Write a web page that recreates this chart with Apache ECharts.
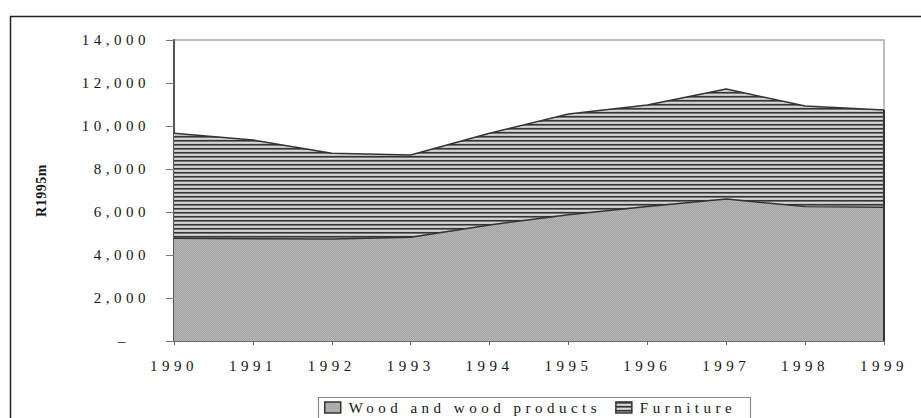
<!DOCTYPE html>
<html>
<head>
<meta charset="utf-8">
<script src="https://cdn.jsdelivr.net/npm/echarts@6/dist/echarts.min.js"></script>
<style>
  html, body { margin: 0; padding: 0; background: #fff; }
  #chart { width: 921px; height: 418px; }
  #chart text { letter-spacing: 4.5px; }
</style>
</head>
<body>
<div id="chart"></div>
<script>
const years = ['1990', '1991', '1992', '1993', '1994', '1995', '1996', '1997', '1998', '1999']
const wood = [4780, 4760, 4740, 4830, 5400, 5870, 6260, 6600, 6250, 6220]
const furniture = [4880, 4590, 3990, 3820, 4260, 4690, 4720, 5120, 4680, 4520]
const seriesNames = ['Wood and wood products', 'Furniture']
const yMax = 14000
const yStep = 2000

// little canvases used as fills (hatched furniture, speckled wood)
function stripes() {
  const c = document.createElement('canvas')
  c.width = 4; c.height = 4
  const ctx = c.getContext('2d')
  const rows = ['#363636', '#727272', '#d6d6d6', '#c2c2c2']
  rows.forEach((col, i) => { ctx.fillStyle = col; ctx.fillRect(0, i, 4, 1) })
  return c
}
function speckle() {
  const c = document.createElement('canvas')
  c.width = 4; c.height = 4
  const ctx = c.getContext('2d')
  for (let x = 0; x < 4; x++) {
    for (let y = 0; y < 4; y++) {
      ctx.fillStyle = (x + y) % 2 ? '#a2a2a2' : '#b8b8b8'
      ctx.fillRect(x, y, 1, 1)
    }
  }
  return c
}
const woodFill = { image: speckle(), repeat: 'repeat' }
const furnFill = { image: stripes(), repeat: 'repeat' }

const chart = echarts.init(document.getElementById('chart'), null, { renderer: 'svg' })
const font = 'Liberation Serif'
const ink = '#151515'

const option = {
  animation: false,
  backgroundColor: '#fff',
  textStyle: { fontFamily: font, color: ink },
  grid: { left: 174, right: 37, top: 40, bottom: 77, show: true, borderColor: '#a8a8a8', borderWidth: 1.5 },
  graphic: [
    { type: 'rect', left: 8, top: 14, shape: { width: 1000, height: 500 }, style: { fill: 'none', stroke: '#222', lineWidth: 1.5 }, silent: true },
    { type: 'rect', left: 316, top: 395, shape: { width: 432, height: 40 }, style: { fill: 'none', stroke: '#8a8a8a', lineWidth: 1.2 }, silent: true }
  ],
  legend: {
    left: 324,
    top: 400,
    padding: 0,
    itemWidth: 16,
    itemHeight: 11,
    itemGap: 113,
    icon: 'rect',
    textStyle: { fontFamily: font, fontSize: 15, color: ink, padding: [0, 0, 0, 3] },
    data: [
      { name: seriesNames[0], itemStyle: { color: woodFill, borderColor: '#333', borderWidth: 1.5 } },
      { name: seriesNames[1], itemStyle: { color: furnFill, borderColor: '#333', borderWidth: 1.5 } }
    ]
  },
  xAxis: {
    type: 'category',
    boundaryGap: false,
    data: years,
    axisLine: { lineStyle: { color: '#555', width: 1.5 } },
    axisTick: { alignWithLabel: true, length: 4, lineStyle: { color: '#666' } },
    axisLabel: { fontFamily: font, fontSize: 15, color: ink, margin: 17 },
    splitLine: { show: false }
  },
  yAxis: {
    type: 'value',
    min: 0,
    max: yMax,
    interval: yStep,
    name: 'R1995m',
    nameLocation: 'middle',
    nameRotate: 90,
    nameGap: 126,
    nameTextStyle: { fontFamily: font, fontSize: 14, fontWeight: 'bold', color: ink },
    axisLine: { show: true, lineStyle: { color: '#555', width: 2 } },
    axisTick: { show: true, length: 8, lineStyle: { color: '#777' } },
    splitLine: { show: false },
    axisLabel: {
      fontFamily: font, fontSize: 15, color: ink, margin: 24,
      formatter: v => v === 0 ? '{z|–}' : v.toLocaleString('en-US'),
      rich: { z: { fontFamily: font, fontSize: 15, color: ink, padding: [0, 20, 0, 0] } }
    }
  },
  series: [
    {
      name: seriesNames[0],
      type: 'line',
      stack: 'total',
      data: wood,
      symbol: 'none',
      itemStyle: { color: woodFill },
      lineStyle: { color: '#333', width: 1.5 },
      areaStyle: { color: woodFill, opacity: 1 }
    },
    {
      name: seriesNames[1],
      type: 'line',
      stack: 'total',
      data: furniture,
      symbol: 'none',
      itemStyle: { color: furnFill },
      lineStyle: { color: '#333', width: 1.5 },
      areaStyle: { color: furnFill, opacity: 1 },
      markLine: {
        silent: true,
        symbol: 'none',
        label: { show: false },
        lineStyle: { color: '#333', type: 'solid', width: 2 },
        data: [[
          { coord: [years[years.length - 1], 0] },
          { coord: [years[years.length - 1], wood[wood.length - 1] + furniture[furniture.length - 1]] }
        ]]
      }
    }
  ]
}
chart.setOption(option)

function fixSpacing() {
  document.querySelectorAll('#chart text').forEach(t => {
    t.style.letterSpacing = t.textContent === 'R1995m' ? '0.5px' : '4.5px'
  })
}
chart.on('finished', fixSpacing)
fixSpacing()
</script>
</body>
</html>
